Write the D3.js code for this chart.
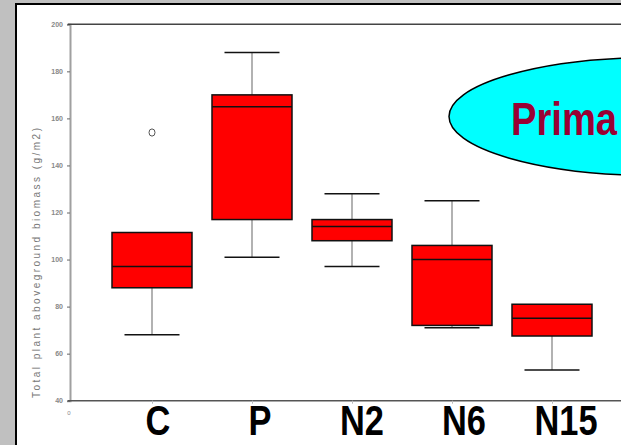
<!DOCTYPE html>
<html>
<head>
<meta charset="utf-8">
<script src="https://cdn.jsdelivr.net/npm/d3@7"></script>
<style>
  body { margin: 0; background: #c0c0c0; }
  svg { display: block; }
</style>
</head>
<body>
<svg id="chart" width="621" height="445"></svg>
<script>
// box plot values (g/m2)
const categories = ["C", "P", "N2", "N6", "N15"];
const mins = [68, 101, 97, 71, 53];
const q1s = [88, 117, 108, 72, 67.5];
const medians = [97, 165, 114, 100, 75];
const q3s = [111.5, 170, 117, 106, 81];
const maxs = [111.5, 188, 128, 125, 81];
const outliers = [{ cat: "C", value: 154 }];
const yTicks = [40, 60, 80, 100, 120, 140, 160, 180, 200];

const rows = categories.map((c, i) => ({
  cat: c, min: mins[i], q1: q1s[i], med: medians[i], q3: q3s[i], max: maxs[i]
}));

const svg = d3.select("#chart");

// slide frame
svg.append("rect").attr("x", 0).attr("y", 0).attr("width", 621).attr("height", 445).attr("fill", "#c0c0c0");
svg.append("rect").attr("x", 16).attr("y", 4).attr("width", 620).attr("height", 460)
  .attr("fill", "#fff").attr("stroke", "#000").attr("stroke-width", 2);

const x = d3.scalePoint().domain(categories).range([152, 552]);
const y = d3.scaleLinear().domain([40, 200]).range([400.7, 24.3]);
const boxW = 80, capW = 55;

// y axis
const yAxis = svg.append("g")
  .attr("transform", "translate(70,0)")
  .call(d3.axisLeft(y).tickValues(yTicks).tickSize(3).tickPadding(4));
yAxis.select(".domain").attr("stroke", "#a0a0a0").attr("stroke-width", 2);
yAxis.selectAll(".tick line").attr("stroke", "#666");
yAxis.selectAll(".tick text")
  .attr("font-family", "Liberation Sans, Arial, sans-serif")
  .attr("font-size", 7).attr("font-weight", "bold").attr("fill", "#888");

// top frame line
svg.append("line").attr("x1", 68).attr("x2", 621).attr("y1", y(200)).attr("y2", y(200))
  .attr("stroke", "#444").attr("stroke-width", 1.5);

// x axis
const xAxis = svg.append("g")
  .attr("transform", `translate(0,${y(40)})`)
  .call(d3.axisBottom(x).tickSize(3).tickFormat(""));
xAxis.select(".domain").attr("d", `M68,0H621`).attr("stroke", "#555").attr("stroke-width", 1.5);
xAxis.selectAll(".tick line").attr("stroke", "#bbb");

svg.append("text").attr("x", 69).attr("y", 415).attr("text-anchor", "middle")
  .attr("font-family", "Liberation Sans, Arial, sans-serif").attr("font-size", 6)
  .attr("fill", "#888").text("0");

// y label
svg.append("text")
  .attr("transform", `translate(40,263) rotate(-90)`)
  .attr("text-anchor", "middle")
  .attr("font-family", "Liberation Sans, Arial, sans-serif")
  .attr("font-size", 10).attr("fill", "#777")
  .attr("textLength", 270).attr("lengthAdjust", "spacing")
  .text("Total plant aboveground biomass (g/m2)");

// boxes
const g = svg.append("g").selectAll("g").data(rows).join("g");

g.append("line")
  .attr("x1", d => x(d.cat)).attr("x2", d => x(d.cat))
  .attr("y1", d => y(d.max)).attr("y2", d => y(d.min))
  .attr("stroke", "#999").attr("stroke-width", 1.5);

g.filter(d => d.max > d.q3).append("line")
  .attr("x1", d => x(d.cat) - capW / 2).attr("x2", d => x(d.cat) + capW / 2)
  .attr("y1", d => y(d.max)).attr("y2", d => y(d.max))
  .attr("stroke", "#111").attr("stroke-width", 1.5);

g.filter(d => d.min < d.q1).append("line")
  .attr("x1", d => x(d.cat) - capW / 2).attr("x2", d => x(d.cat) + capW / 2)
  .attr("y1", d => y(d.min)).attr("y2", d => y(d.min))
  .attr("stroke", "#111").attr("stroke-width", 1.5);

g.append("rect")
  .attr("x", d => x(d.cat) - boxW / 2).attr("width", boxW)
  .attr("y", d => y(d.q3)).attr("height", d => y(d.q1) - y(d.q3))
  .attr("fill", "#f00").attr("stroke", "#111").attr("stroke-width", 1.5);

g.append("line")
  .attr("x1", d => x(d.cat) - boxW / 2).attr("x2", d => x(d.cat) + boxW / 2)
  .attr("y1", d => y(d.med)).attr("y2", d => y(d.med))
  .attr("stroke", "#111").attr("stroke-width", 1.5);

// outliers
svg.selectAll(".out").data(outliers).join("ellipse")
  .attr("cx", d => x(d.cat)).attr("cy", d => y(d.value))
  .attr("rx", 3).attr("ry", 3.6)
  .attr("fill", "none").attr("stroke", "#555").attr("stroke-width", 1);

// big category labels
svg.selectAll(".cat").data(categories).join("text")
  .attr("transform", (d, i) => `translate(${x(d) + 6 + i * 2},435) scale(0.8,1)`)
  .attr("text-anchor", "middle")
  .attr("font-family", "Liberation Sans, Arial, sans-serif")
  .attr("font-weight", "bold").attr("font-size", 43).attr("fill", "#000")
  .text(d => d);

// callout
svg.append("ellipse").attr("cx", 655).attr("cy", 116.5).attr("rx", 206).attr("ry", 59)
  .attr("fill", "#00ffff").attr("stroke", "#000").attr("stroke-width", 1.5);
svg.append("text")
  .attr("transform", "translate(511,135) scale(0.83,1)")
  .attr("font-family", "Liberation Sans, Arial, sans-serif")
  .attr("font-weight", "bold").attr("font-size", 46).attr("fill", "#990033")
  .text("Prima");
</script>
</body>
</html>
